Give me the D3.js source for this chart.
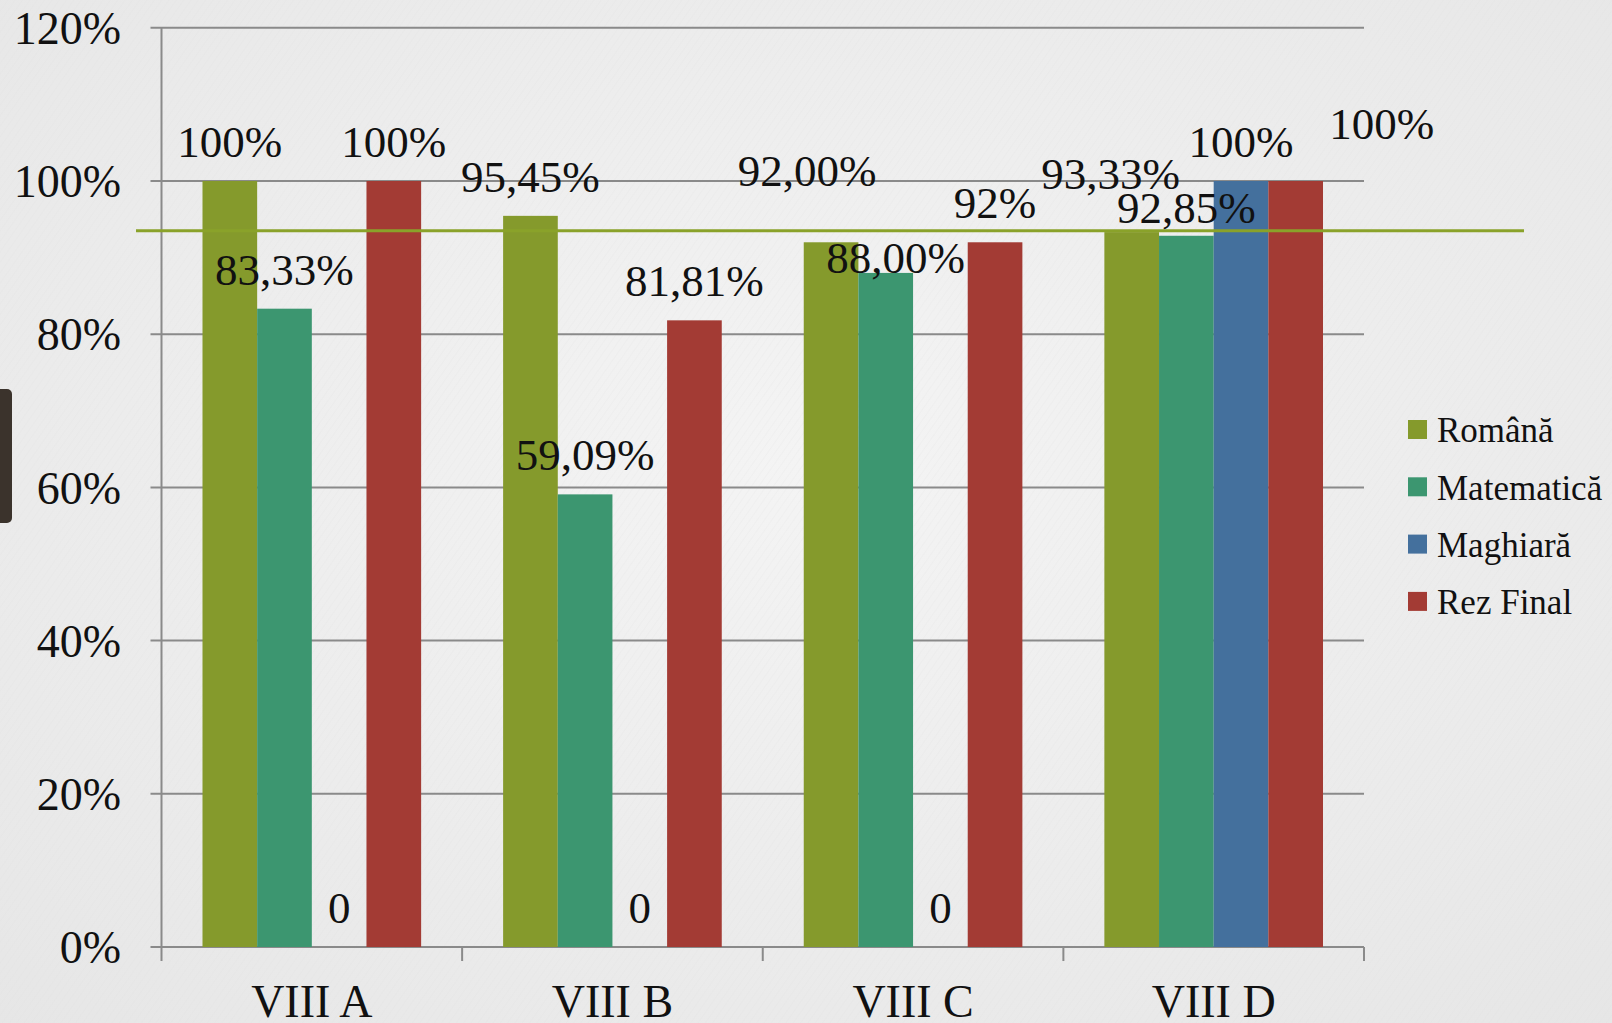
<!DOCTYPE html>
<html>
<head>
<meta charset="utf-8">
<script src="https://cdn.jsdelivr.net/npm/d3@7"></script>
<style>
  body { margin:0; overflow:hidden; }
  #d3charts svg { display:block; }
</style>
</head>
<body>
<div id="d3charts"></div>
<script>
var categories = ["VIII A", "VIII B", "VIII C", "VIII D"];
var seriesNames = ["Română", "Matematică", "Maghiară", "Rez Final"];
var romana     = [1.00, 0.9545, 0.92, 0.9333];
var matematica = [0.8333, 0.5909, 0.88, 0.9285];
var maghiara   = [0, 0, 0, 1.00];
var rezFinal   = [1.00, 0.8181, 0.92, 1.00];
var labelsRomana     = ["100%", "95,45%", "92,00%", "93,33%"];
var labelsMatematica = ["83,33%", "59,09%", "88,00%", "92,85%"];
var labelsMaghiara   = ["0", "0", "0", "100%"];
var labelsRezFinal   = ["100%", "81,81%", "92%", "100%"];
var yTicks = [0, 0.2, 0.4, 0.6, 0.8, 1.0, 1.2];
var targetLine = 0.935;

function init(){

    var w = 1612;
    var h = 1023;

    var colors = ["#859a2c", "#3c9670", "#44709d", "#a33b34"];
    var values = [romana, matematica, maghiara, rezFinal];
    var labels = [labelsRomana, labelsMatematica, labelsMaghiara, labelsRezFinal];

    // label nudges for the ones moved by hand in the original [series][category] = [dx,dy]
    var nudge = [
        [[0,0],[0,0],[-24,-32],[-21,-19]],
        [[0,0],[0,0],[10,24],[0,11]],
        [[0,0],[0,0],[0,0],[0,0]],
        [[0,0],[0,0],[0,0],[86,-18]]
    ];

    var left = 161.5, right = 1364, top = 27.8, bottom = 947;

    var svg = d3.select("#d3charts")
                .append("svg")
                .attr("width", w)
                .attr("height", h)
                .style("font-family", "'Liberation Serif', 'DejaVu Serif', serif");

    var defs = svg.append("defs");
    var grad = defs.append("radialGradient").attr("id", "bg").attr("cx", "50%").attr("cy", "45%").attr("r", "75%");
    grad.append("stop").attr("offset", "0%").attr("stop-color", "#f4f4f4");
    grad.append("stop").attr("offset", "100%").attr("stop-color", "#e6e6e6");
    var pat = defs.append("pattern").attr("id", "tex").attr("width", 6).attr("height", 6)
                  .attr("patternUnits", "userSpaceOnUse").attr("patternTransform", "rotate(35)");
    pat.append("line").attr("x1", 0).attr("y1", 0).attr("x2", 0).attr("y2", 6)
       .attr("stroke", "#dcdcdc").attr("stroke-width", 1).attr("opacity", 0.35);

    svg.append("rect").attr("width", w).attr("height", h).attr("fill", "url(#bg)");
    svg.append("rect").attr("width", w).attr("height", h).attr("fill", "url(#tex)");

    // dark tab at the left edge
    svg.append("rect").attr("x", -6).attr("y", 389).attr("width", 18).attr("height", 134)
       .attr("rx", 5).attr("fill", "#3b332c");

    var x0 = d3.scaleBand().domain(categories).range([left, right]).paddingInner(0).paddingOuter(0);
    var x1 = d3.scaleBand().domain(d3.range(seriesNames.length)).range([0, x0.bandwidth()])
               .paddingInner(0).paddingOuter(0.75);
    var y = d3.scaleLinear().domain([0, 1.2]).range([bottom, top]);

    // gridlines
    svg.append("g").selectAll("line")
       .data(yTicks)
       .enter()
       .append("line")
       .attr("x1", left - 11)
       .attr("x2", right)
       .attr("y1", function(d){ return y(d); })
       .attr("y2", function(d){ return y(d); })
       .attr("stroke", "#8a8a8a")
       .attr("stroke-width", 2);

    // y axis line
    svg.append("line").attr("x1", left).attr("x2", left).attr("y1", top).attr("y2", bottom)
       .attr("stroke", "#8a8a8a").attr("stroke-width", 2);

    // x axis ticks
    var xTickPos = categories.map(function(c){ return x0(c); }).concat([right]);
    svg.append("g").selectAll("line")
       .data(xTickPos)
       .enter()
       .append("line")
       .attr("x1", function(d){ return d; })
       .attr("x2", function(d){ return d; })
       .attr("y1", bottom)
       .attr("y2", bottom + 14)
       .attr("stroke", "#8a8a8a")
       .attr("stroke-width", 2);

    // y tick labels
    svg.append("g").selectAll("text")
       .data(yTicks)
       .enter()
       .append("text")
       .attr("x", 121)
       .attr("y", function(d){ return y(d); })
       .attr("dy", "0.35em")
       .attr("text-anchor", "end")
       .attr("font-size", 46)
       .attr("fill", "#111")
       .text(function(d){ return Math.round(d*100) + "%"; });

    // x labels
    svg.append("g").selectAll("text")
       .data(categories)
       .enter()
       .append("text")
       .attr("x", function(d){ return x0(d) + x0.bandwidth()/2; })
       .attr("y", 1017)
       .attr("text-anchor", "middle")
       .attr("font-size", 46)
       .attr("fill", "#111")
       .text(function(d){ return d; });

    // bars
    var groups = svg.append("g").selectAll("g")
                    .data(categories)
                    .enter()
                    .append("g")
                    .attr("transform", function(d){ return "translate(" + x0(d) + ",0)"; });

    groups.selectAll("rect")
          .data(function(d, ci){
              return values.map(function(s, si){ return {s: si, c: ci, v: s[ci]}; });
          })
          .enter()
          .append("rect")
          .attr("x", function(d){ return x1(d.s); })
          .attr("width", x1.bandwidth())
          .attr("y", function(d){ return y(d.v); })
          .attr("height", function(d){ return bottom - y(d.v); })
          .attr("fill", function(d){ return colors[d.s]; });

    // target line
    svg.append("line")
       .attr("x1", 136).attr("x2", 1524)
       .attr("y1", y(targetLine)).attr("y2", y(targetLine))
       .attr("stroke", "#8aa22a").attr("stroke-width", 3);

    // data labels
    groups.selectAll("text")
          .data(function(d, ci){
              return values.map(function(s, si){ return {s: si, c: ci, v: s[ci]}; });
          })
          .enter()
          .append("text")
          .attr("x", function(d){ return x1(d.s) + x1.bandwidth()/2 + nudge[d.s][d.c][0]; })
          .attr("y", function(d){ return y(d.v) - 24 + nudge[d.s][d.c][1]; })
          .attr("text-anchor", "middle")
          .attr("font-size", 45)
          .attr("fill", "#111")
          .text(function(d){ return labels[d.s][d.c]; });

    // legend
    var legend = svg.append("g").selectAll("g")
                    .data(seriesNames)
                    .enter()
                    .append("g")
                    .attr("transform", function(d, i){ return "translate(1408," + (430 + i*57.3) + ")"; });

    legend.append("rect")
          .attr("x", 0).attr("y", -10).attr("width", 19).attr("height", 19)
          .attr("fill", function(d, i){ return colors[i]; });

    legend.append("text")
          .attr("x", 29)
          .attr("y", 0)
          .attr("dy", "0.35em")
          .attr("font-size", 35)
          .attr("fill", "#111")
          .text(function(d){ return d; });
}

window.onload = init;
</script>
</body>
</html>
